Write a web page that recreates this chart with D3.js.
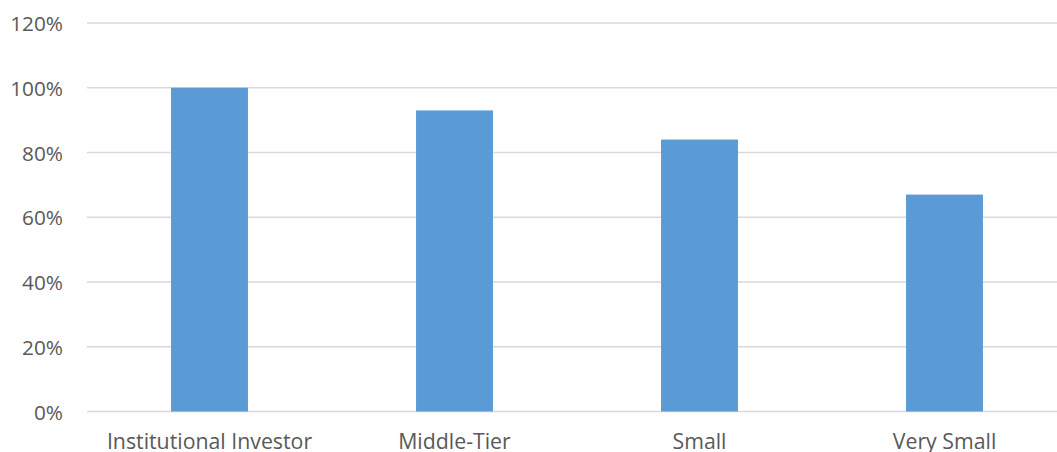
<!DOCTYPE html>
<html>
<head>
<meta charset="utf-8">
<script src="https://cdn.jsdelivr.net/npm/d3@7"></script>
<style>
html,body{margin:0;padding:0;background:#fff;overflow:hidden;}
svg{display:block;}
</style>
</head>
<body>
<svg id="chart" width="1057" height="452"></svg>
<script>
const categories = ["Institutional Investor", "Middle-Tier", "Small", "Very Small"];
const values = [100, 93, 84, 67];
const yTicks = [0, 20, 40, 60, 80, 100, 120];

(function () {
const svg = d3.select("#chart");
const pLeft = 87, pRight = 1067, pTop = 23, pBottom = 411.5;

const x = d3.scaleBand().domain(categories).range([pLeft, pRight]).paddingInner(0.686).paddingOuter(0.343);
const y = d3.scaleLinear().domain([0, 120]).range([pBottom, pTop]);

const font = "'Open Sans', sans-serif";

// gridlines
svg.append("g").selectAll("line").data(yTicks).join("line")
  .attr("x1", pLeft).attr("x2", 1057)
  .attr("y1", d => y(d)).attr("y2", d => y(d))
  .attr("stroke", "#d9d9d9").attr("stroke-width", 1.5);

// bars
svg.append("g").selectAll("rect").data(values).join("rect")
  .attr("x", (d, i) => x(categories[i]))
  .attr("width", x.bandwidth())
  .attr("y", d => y(d))
  .attr("height", d => pBottom - y(d))
  .attr("fill", "#5b9bd5");

// y axis labels
const yAxis = d3.axisLeft(y).tickValues(yTicks).tickFormat(d => d + "%").tickSize(0).tickPadding(0);
const ga = svg.append("g").attr("transform", `translate(63,0)`).call(yAxis);
ga.select(".domain").remove();
ga.selectAll("text").attr("font-family", font).attr("font-size", 20.8).attr("fill", "#595959").attr("dy", "0.36em");

// x axis labels
const xAxis = d3.axisBottom(x).tickSize(0).tickPadding(0);
const gx = svg.append("g").attr("transform", `translate(0,${pBottom})`).call(xAxis);
gx.select(".domain").remove();
gx.selectAll("text").attr("font-family", font).attr("font-size", 21.3).attr("fill", "#595959").attr("dy", null).attr("y", 37.5);
})();
</script>
</body>
</html>
